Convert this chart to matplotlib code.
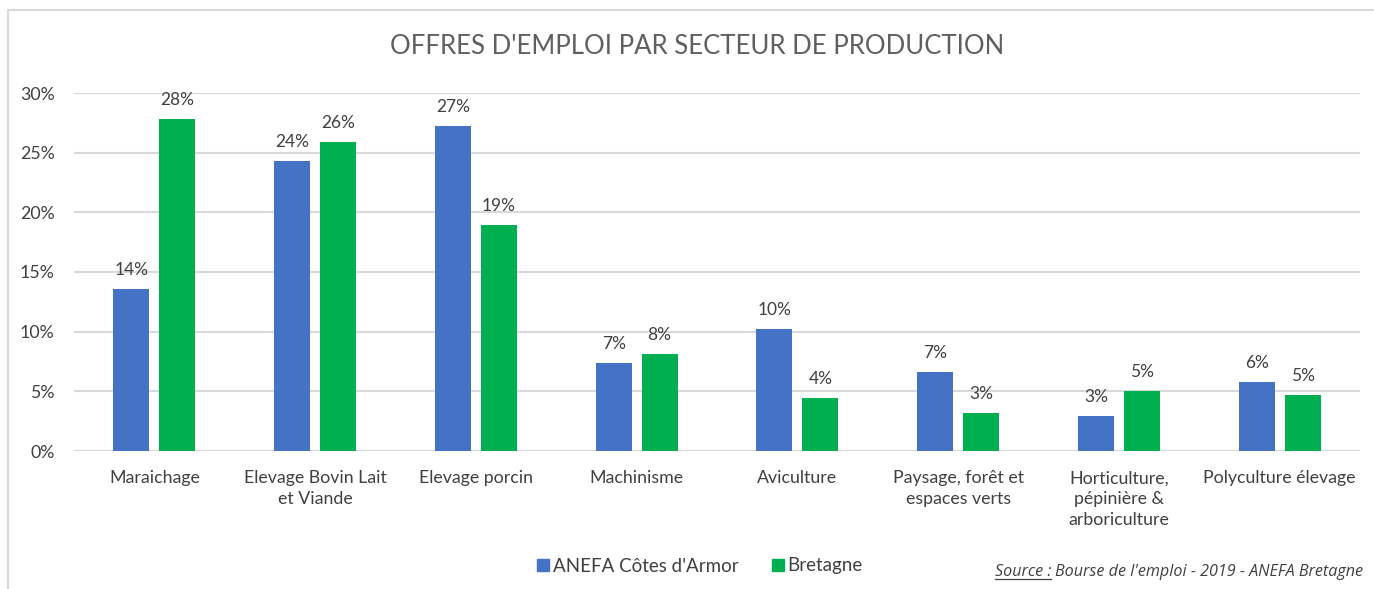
import matplotlib
matplotlib.use("Agg")
import matplotlib.pyplot as plt
from matplotlib.patches import Rectangle
from matplotlib.lines import Line2D
import numpy as np

# data (percent)
categories = ["Maraichage", "Elevage Bovin Lait\net Viande", "Elevage porcin",
              "Machinisme", "Aviculture", "Paysage, forêt et\nespaces verts",
              "Horticulture,\npépinière &\narboriculture", "Polyculture élevage"]
anefa = [13.6, 24.3, 27.2, 7.4, 10.25, 6.6, 2.9, 5.75]
bretagne = [27.8, 25.9, 18.9, 8.1, 4.45, 3.2, 5.0, 4.7]
series_names = ["ANEFA Côtes d'Armor", "Bretagne"]
yticks = [0, 5, 10, 15, 20, 25, 30]

BLUE = "#4472c4"
GREEN = "#00b050"
GRID = "#d9d9d9"
TXT = "#404040"
FONT = ["Lato", "DejaVu Sans"]

plt.rcParams['font.family'] = FONT

W, H = 1374, 589
fig = plt.figure(figsize=(W / 100, H / 100), dpi=100)

# chart border
fig.patches.append(Rectangle((8 / W, -0.01), 1.02 - 8 / W, 1 - 10 / H + 0.01,
                             transform=fig.transFigure, fill=False,
                             edgecolor=GRID, linewidth=1.5))

ax = fig.add_axes([74 / W, 1 - 451 / H, (1360 - 74) / W, (451 - 93) / H])

x = np.arange(len(categories))
bw = 0.224
off = 0.143
b1 = ax.bar(x - off, anefa, bw, color=BLUE, zorder=3)
b2 = ax.bar(x + off, bretagne, bw, color=GREEN, zorder=3)

for bars, vals in ((b1, anefa), (b2, bretagne)):
    for rect, v in zip(bars, vals):
        ax.annotate(f"{int(v + 0.5)}%", (rect.get_x() + rect.get_width() / 2, v),
                    xytext=(0, 8), textcoords="offset points", ha="center",
                    va="bottom", fontsize=12.5, color=TXT)

ax.set_xlim(-0.5, len(categories) - 0.5)
ax.set_ylim(0, 30)
ax.set_yticks(yticks)
ax.set_yticklabels([f"{t}%" for t in yticks])
ax.set_xticks(x)
ax.set_xticklabels(categories, linespacing=1.35, va="top")
ax.tick_params(axis="both", length=0, labelsize=12.8, labelcolor=TXT)
ax.tick_params(axis="y", pad=14)
ax.tick_params(axis="x", pad=14)
ax.grid(axis="y", color=GRID, linewidth=1.5, zorder=0)
for s in ax.spines.values():
    s.set_visible(False)

fig.text(697 / W, 1 - 47 / H, "OFFRES D'EMPLOI PAR SECTEUR DE PRODUCTION",
         ha="center", va="center", fontsize=18.5, color="#5f5f5f")

handles = [Line2D([], [], marker="s", linestyle="", markersize=9, color=BLUE),
           Line2D([], [], marker="s", linestyle="", markersize=9, color=GREEN)]
leg = fig.legend(handles, series_names, loc="center", ncol=2,
                 bbox_to_anchor=(699 / W, 1 - 566 / H), frameon=False,
                 fontsize=13.5, handletextpad=0.1, columnspacing=1.7,
                 handlelength=0.8)
for t in leg.get_texts():
    t.set_color(TXT)

# source note with underlined "Source :"
src_font = ["Open Sans", "DejaVu Sans"]
t1 = fig.text(995 / W, 1 - 572 / H, "Source :", ha="left", va="center",
              fontsize=11.6, style="italic", color=TXT, family=src_font)
fig.canvas.draw()
r = fig.canvas.get_renderer()
bb = t1.get_window_extent(r)
fig.text((bb.x1 + 4) / W, 1 - 572 / H, "Bourse de l'emploi - 2019 - ANEFA Bretagne",
         ha="left", va="center", fontsize=11.6, style="italic", color=TXT,
         family=src_font)
fig.add_artist(Line2D([bb.x0 / W, bb.x1 / W], [(bb.y0 + 1) / H, (bb.y0 + 1) / H],
                      transform=fig.transFigure, color=TXT, linewidth=0.9))

fig.savefig("out.png", dpi=100)
